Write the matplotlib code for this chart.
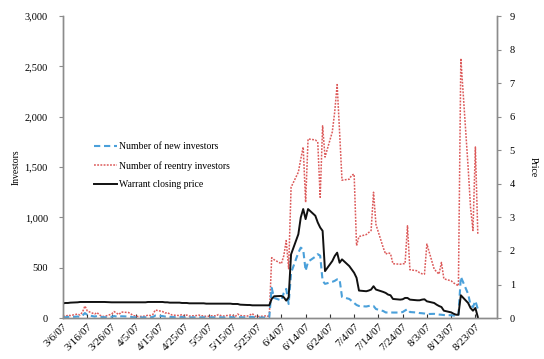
import matplotlib
matplotlib.use('Agg')
import matplotlib.pyplot as plt
import matplotlib.ticker as mticker
import matplotlib.transforms as mtransforms
import pandas as pd

# daily trading data 3/6/07 .. 8/24/07, five trading days per row
dates = pd.bdate_range('2007-03-06', '2007-08-24')

new_investors = [
    10, 8, 12,
    10, 15, 12, 25, 50,
    30, 15, 20, 12, 10,
    8, 12, 20, 15, 10,
    18, 15, 12, 8, 8,
    6, 8, 10, 8, 10,
    25, 20, 15, 18, 12,
    10, 8, 12, 6, 10,
    6, 8, 10, 6, 8,
    5, 8, 6, 10, 8,
    6, 10, 8, 5, 12,
    8, 6, 10, 12, 6,
    5, 6, 8, 5, 300,
    200, 175, 250, 290, 140,
    450, 650, 700, 680, 470,
    560, 610, 635, 620, 370,
    340, 360, 370, 385, 385,
    210, 190, 170, 150, 130,
    120, 115, 120, 125, 120,
    90, 70, 56, 55, 56,
    55, 55, 60, 75, 90,
    60, 55, 50, 48, 45,
    40, 42, 38, 35, 33,
    30, 28, 26, 24, 23,
    410, 240, 130, 110, 170,
    90,
]

reentry_investors = [
    20, 15, 30,
    25, 40, 30, 60, 120,
    70, 40, 55, 30, 20,
    15, 40, 65, 50, 35,
    60, 55, 40, 25, 20,
    15, 20, 30, 25, 35,
    80, 65, 50, 55, 40,
    30, 25, 35, 20, 30,
    20, 25, 30, 20, 25,
    15, 25, 20, 35, 25,
    20, 30, 25, 15, 40,
    25, 20, 30, 45, 20,
    15, 20, 25, 10, 600,
    580, 540, 620, 770, 490,
    1300, 1450, 1580, 1700, 1150,
    1780, 1770, 1750, 1200, 1910,
    1600, 1850, 2050, 2320, 1850,
    1370, 1380, 1420, 1430, 720,
    810, 830, 850, 870, 1250,
    930, 700, 635, 650, 640,
    540, 535, 540, 540, 917,
    480, 470, 450, 440, 437,
    735, 487, 460, 437, 553,
    390, 370, 350, 335, 320,
    2580, 1500, 1100, 870, 1700,
    830,
]

closing_price = [
    0.44, 0.45, 0.45,
    0.46, 0.47, 0.48, 0.48, 0.48,
    0.48, 0.48, 0.48, 0.48, 0.48,
    0.48, 0.47, 0.47, 0.47, 0.47,
    0.47, 0.47, 0.47, 0.47, 0.47,
    0.47, 0.47, 0.48, 0.48, 0.48,
    0.48, 0.48, 0.47, 0.47, 0.46,
    0.46, 0.46, 0.45, 0.45, 0.45,
    0.44, 0.44, 0.44, 0.44, 0.44,
    0.43, 0.43, 0.43, 0.43, 0.43,
    0.43, 0.43, 0.42, 0.42, 0.42,
    0.40, 0.39, 0.39, 0.38, 0.38,
    0.38, 0.38, 0.38, 0.38, 0.57,
    0.65, 0.66, 0.62, 0.52, 0.62,
    1.90, 2.50, 3.00, 3.25, 2.95,
    3.25, 3.05, 2.85, 2.70, 2.60,
    1.40, 1.70, 1.85, 1.95, 1.65,
    1.75, 1.55, 1.45, 1.35, 1.20,
    0.82, 0.80, 0.82, 0.85, 0.95,
    0.85, 0.78, 0.75, 0.70, 0.68,
    0.57, 0.55, 0.56, 0.60, 0.60,
    0.55, 0.53, 0.53, 0.55, 0.56,
    0.50, 0.45, 0.40, 0.36, 0.33,
    0.22, 0.17, 0.13, 0.10, 0.10,
    0.68, 0.45, 0.30, 0.22, 0.30,
    0.03,
]

tick_dates = pd.date_range('2007-03-06', periods=18, freq='10D')

plt.rcParams['font.family'] = ['Liberation Serif', 'DejaVu Serif']
axis_grey = '#8c8c8c'

fig = plt.figure(figsize=(5.44, 3.59), dpi=100)
ax = fig.add_axes([0.116, 0.114, 0.798, 0.841])
ax2 = ax.twinx()

l_red, = ax.plot(dates, reentry_investors, color='#dc5a5a', lw=1.1,
                 dashes=(1.2, 0.9), label='Number of reentry investors')
l_blue, = ax.plot(dates, new_investors, color='#4aa0da', lw=1.5,
                  dashes=(3, 1.8), label='Number of new investors')
l_black, = ax2.plot(dates, closing_price, color='#111111', lw=1.4,
                    label='Warrant closing price')

ax.set_xlim(pd.Timestamp('2007-03-06'), pd.Timestamp('2007-09-01'))
ax.set_ylim(0, 3000)
ax2.set_ylim(0, 9)
ax.set_yticks(range(0, 3001, 500))
ax2.set_yticks(range(0, 10))
ax.yaxis.set_major_formatter(mticker.FuncFormatter(lambda v, p: f'{int(v):,}'))

ax.set_xticks(tick_dates)
ax.set_xticklabels([f'{d.month}/{d.day}/{d:%y}' for d in tick_dates],
                   rotation=45, ha='right', rotation_mode='anchor')
# nudge the slanted date labels a little to the right of their ticks
shift = mtransforms.ScaledTranslation(5 / 100, 0, fig.dpi_scale_trans)
for lbl in ax.get_xticklabels():
    lbl.set_transform(lbl.get_transform() + shift)

for a in (ax, ax2):
    a.spines['top'].set_visible(False)
    for s in ('left', 'right', 'bottom'):
        a.spines[s].set_color(axis_grey)
        a.spines[s].set_linewidth(1.0)
ax.tick_params(axis='y', direction='out', length=3, color=axis_grey,
               labelsize=7.5, pad=8)
ax.tick_params(axis='x', direction='in', length=3, color='#333333',
               labelsize=8, pad=3)
ax2.tick_params(axis='y', direction='out', length=3, color=axis_grey,
                labelsize=7.5, pad=6)

ax.set_ylabel('Investors', fontsize=7, labelpad=3)
ax2.set_ylabel('Price', fontsize=7, rotation=270, labelpad=16)

fig.legend(handles=[l_blue, l_red, l_black], loc='center left',
           bbox_to_anchor=(0.163, 0.538), frameon=False, fontsize=7,
           handlelength=2.4, handletextpad=0.2, labelspacing=1.0,
           borderpad=0)

fig.savefig('out.png', dpi=100)
